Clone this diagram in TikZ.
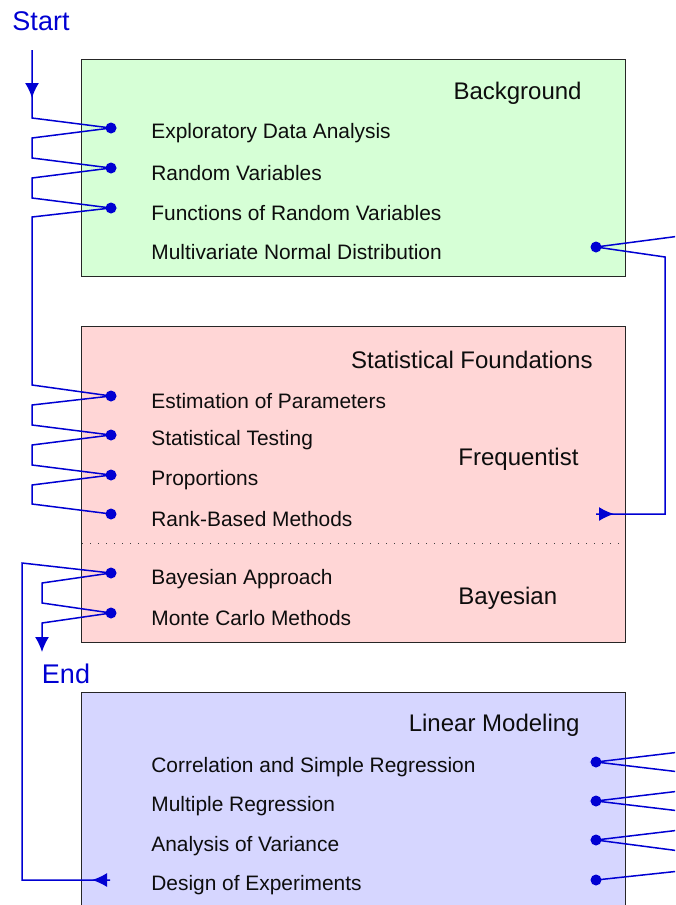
\documentclass[tikz,border=0pt]{standalone}
\usepackage{fontspec}
\setmainfont{Liberation Sans}
\usepackage{xcolor}
\definecolor{flowblue}{RGB}{0,0,210}
\definecolor{bggreen}{RGB}{214,255,214}
\definecolor{bgpink}{RGB}{255,214,214}
\definecolor{bglilac}{RGB}{214,214,255}
\usetikzlibrary{arrows.meta,positioning,decorations.markings,shadows}

\begin{document}
\begin{tikzpicture}[x=0.5pt, y=-0.5pt,
    panel/.style={draw=black!85, line width=0.5pt,
      drop shadow={shadow xshift=0.5pt, shadow yshift=-0.6pt, fill=black!45, opacity=1}},
    topic/.style={anchor=west, inner sep=0pt, text=black!95,
      font=\fontsize{10.45}{12}\selectfont},
    ttl/.style={inner sep=0pt, text=black!95, font=\fontsize{12}{14}\selectfont},
    term/.style={inner sep=0pt, text=flowblue, font=\fontsize{13.5}{16}\selectfont},
    hub/.style={circle, fill=flowblue, inner sep=0pt, minimum size=5.5pt},
    flow/.style={draw=flowblue, line width=0.75pt},
    headarrow/.style={postaction={decorate}, decoration={markings,
      mark=at position #1 with {\arrow{Latex[length=7.5pt,width=7pt]}}}}
  ]
    \useasboundingbox (0,0) rectangle (675,905);
    \clip (0,0) rectangle (675,905);

    % Panels
    \draw[panel, fill=bggreen] (81,59) rectangle (625,276);
    \draw[panel, fill=bgpink]  (81,326) rectangle (625,642);
    \draw[panel, fill=bglilac] (81,692) rectangle (625,1000);
    \draw[black!75, line width=0.5pt, dash pattern=on 0.5pt off 3.5pt] (82,543) -- (624,543);

    % Titles
    \node[ttl, anchor=east] (tbg)  at (582,93)  {Background};
    \node[ttl, anchor=east] (tsf)  at (593,360) {Statistical Foundations};
    \node[ttl, anchor=west] (tfr)  at (458,459) {Frequentist};
    \node[ttl, anchor=west] (tby)  at (458,598) {Bayesian};
    \node[ttl, anchor=east] (tlm)  at (580,725) {Linear Modeling};

    % Topics -- background
    \node[topic] (l1) at (151,133) {Exploratory Data Analysis};
    \node[topic] (l2) at (151,173) {Random Variables};
    \node[topic] (l3) at (151,213) {Functions of Random Variables};
    \node[topic] (l4) at (151,252) {Multivariate Normal Distribution};

    % Topics -- foundations
    \node[topic] (l5) at (151,401) {Estimation of Parameters};
    \node[topic] (l6) at (151,440) {Statistical Testing};
    \node[topic] (l7) at (151,480) {Proportions};
    \node[topic] (l8) at (151,519) {Rank{-}Based Methods};
    \node[topic] (l9) at (151,579) {Bayesian Approach};
    \node[topic] (l10) at (151,618) {Monte Carlo Methods};

    % Topics -- linear modeling
    \node[topic] (l11) at (151,767) {Correlation and Simple Regression};
    \node[topic] (l12) at (151,806) {Multiple Regression};
    \node[topic] (l13) at (151,846) {Analysis of Variance};
    \node[topic] (l14) at (151,885) {Design of Experiments};

    % Start and End
    \node[term] (start) at (41,21)  {Start};
    \node[term] (end)   at (66,674) {End};

    % Hubs
    \node[hub] (eda)  at (111,128) {};
    \node[hub] (rv)   at (111,168) {};
    \node[hub] (frv)  at (111,208) {};
    \node[hub] (mvn)  at (596,247) {};
    \node[hub] (est)  at (111,396) {};
    \node[hub] (tst)  at (111,435) {};
    \node[hub] (prop) at (111,475) {};
    \node[hub] (rank) at (111,514) {};
    \node[hub] (bay)  at (111,573) {};
    \node[hub] (mc)   at (111,613) {};
    \node[hub] (cor)  at (596,762) {};
    \node[hub] (mreg) at (596,801) {};
    \node[hub] (aov)  at (596,840) {};
    \node[hub] (doe)  at (596,880) {};

    % Loose ends
    \coordinate (in1)   at (32,50);
    \coordinate (in2)   at (596,514);
    \coordinate (in3)   at (110,880);
    \coordinate (out1)  at (680,236);
    \coordinate (out2)  at (680,752);
    \coordinate (out3)  at (680,772);
    \coordinate (out4)  at (680,791);
    \coordinate (out5)  at (680,811);
    \coordinate (out6)  at (680,830);
    \coordinate (out7)  at (680,851);
    \coordinate (out8)  at (680,871);

    % Main path from Start
    \draw[flow, headarrow=24pt] (in1) -- ++(0,68) -- (eda.center)
      -- ++(-79,10) -- ++(0,20) -- (rv.center)
      -- ++(-79,10) -- ++(0,20) -- (frv.center)
      -- ++(-79,9) -- ++(0,168) -- (est.center)
      -- ++(-79,9) -- ++(0,20) -- (tst.center)
      -- ++(-79,10) -- ++(0,20) -- (prop.center)
      -- ++(-79,10) -- ++(0,19) -- (rank.center);

    % Path into the multivariate normal
    \draw[flow, headarrow=9pt] (in2) -- ++(69,0) -- ++(0,-257) -- (mvn.center);
    \draw[flow] (mvn.center) -- (out1);

    % Bayesian path to End
    \draw[flow, headarrow=9pt, -{Latex[length=7.5pt,width=7pt]}] (in3) -- ++(-88,0) -- ++(0,-317) -- (bay.center)
      -- ++(-69,10) -- ++(0,20) -- (mc.center)
      -- ++(-69,10) -- ++(0,29);

    % Leaving linear modeling
    \draw[flow] (out2) -- (cor.center) -- (out3);
    \draw[flow] (out4) -- (mreg.center) -- (out5);
    \draw[flow] (out6) -- (aov.center) -- (out7);
    \draw[flow] (doe.center) -- (out8);
  \end{tikzpicture}
\end{document}
